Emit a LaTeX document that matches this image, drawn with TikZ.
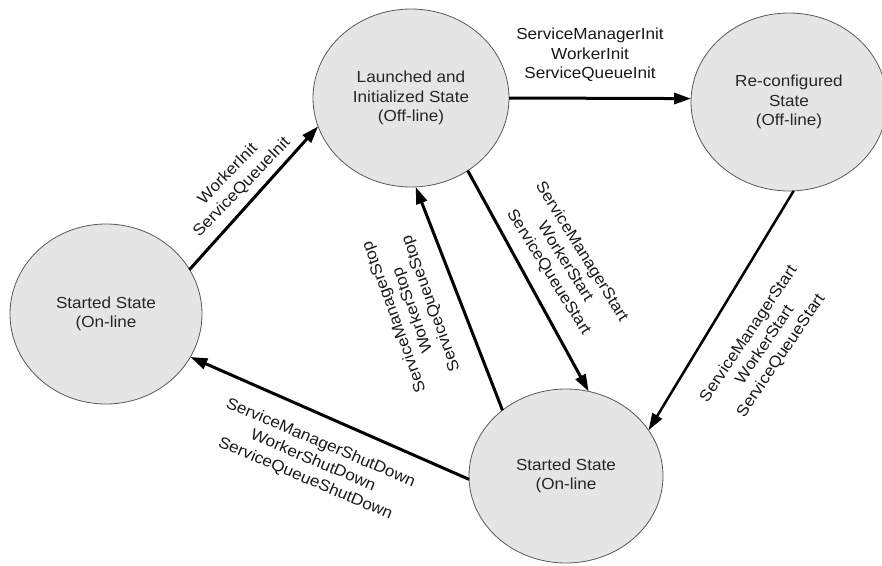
\documentclass[tikz,border=0pt]{standalone}
\usepackage{fontspec}
\setmainfont{Liberation Sans}[FakeStretch=1.07]
\usetikzlibrary{shapes.geometric,arrows.meta}

\begin{document}
\begin{tikzpicture}[x=1pt,y=-1pt,
  font=\fontsize{16}{19.5}\selectfont,
  state/.style={ellipse, draw=black!65, line width=0.8pt, fill=black!10,
    inner sep=0pt, outer sep=0pt, align=center, text=black!85},
  trans/.style={line width=3pt, -{Triangle[length=17pt,width=11pt]}},
  lbl/.style={align=center, inner sep=0pt, text=black!90}
]
\useasboundingbox (0,0) rectangle (882,565);

% states
\node[state, minimum width=192pt, minimum height=180pt] (L) at (106,314)
  {Started State\\(On-line};
\node[state, minimum width=196pt, minimum height=178pt] (T) at (411,98)
  {Launched and\\Initialized State\\(Off-line)};
\node[state, minimum width=196pt, minimum height=178pt] (R) at (789,102)
  {Re-configured\\State\\(Off-line)};
\node[state, minimum width=194pt, minimum height=174pt] (B) at (566,476)
  {Started State\\(On-line};

% transitions
\draw[trans] (L.28.5) -- (T.197);
\draw[trans] (T.0) -- (R.178);
\draw[trans] (T.-52) -- (B.75);
\draw[trans] (B.134.5) -- (T.-87.5);
\draw[trans, line width=2.5pt] (R.-87) -- (B.29);
\draw[trans] (B.182) -- (L.-27);

% transition labels
\node[lbl, rotate=46] (la) at (235,181) {WorkerInit\\ServiceQueueInit};
\node[lbl] (lb) at (590,55) {ServiceManagerInit\\WorkerInit\\ServiceQueueInit};
\node[lbl, rotate=-58] (lc) at (565,262) {ServiceManagerStart\\WorkerStart\\ServiceQueueStart};
\node[lbl, rotate=110] (ld) at (413,310) {ServiceManagerStop\\WorkerStop\\ServiceQueueStop};
\node[lbl, rotate=56] (le) at (765,345) {ServiceManagerStart\\WorkerStart\\ServiceQueueStart};
\node[lbl, rotate=-23] (lf) at (313,461) {ServiceManagerShutDown\\WorkerShutDown\\ServiceQueueShutDown};
\end{tikzpicture}
\end{document}
